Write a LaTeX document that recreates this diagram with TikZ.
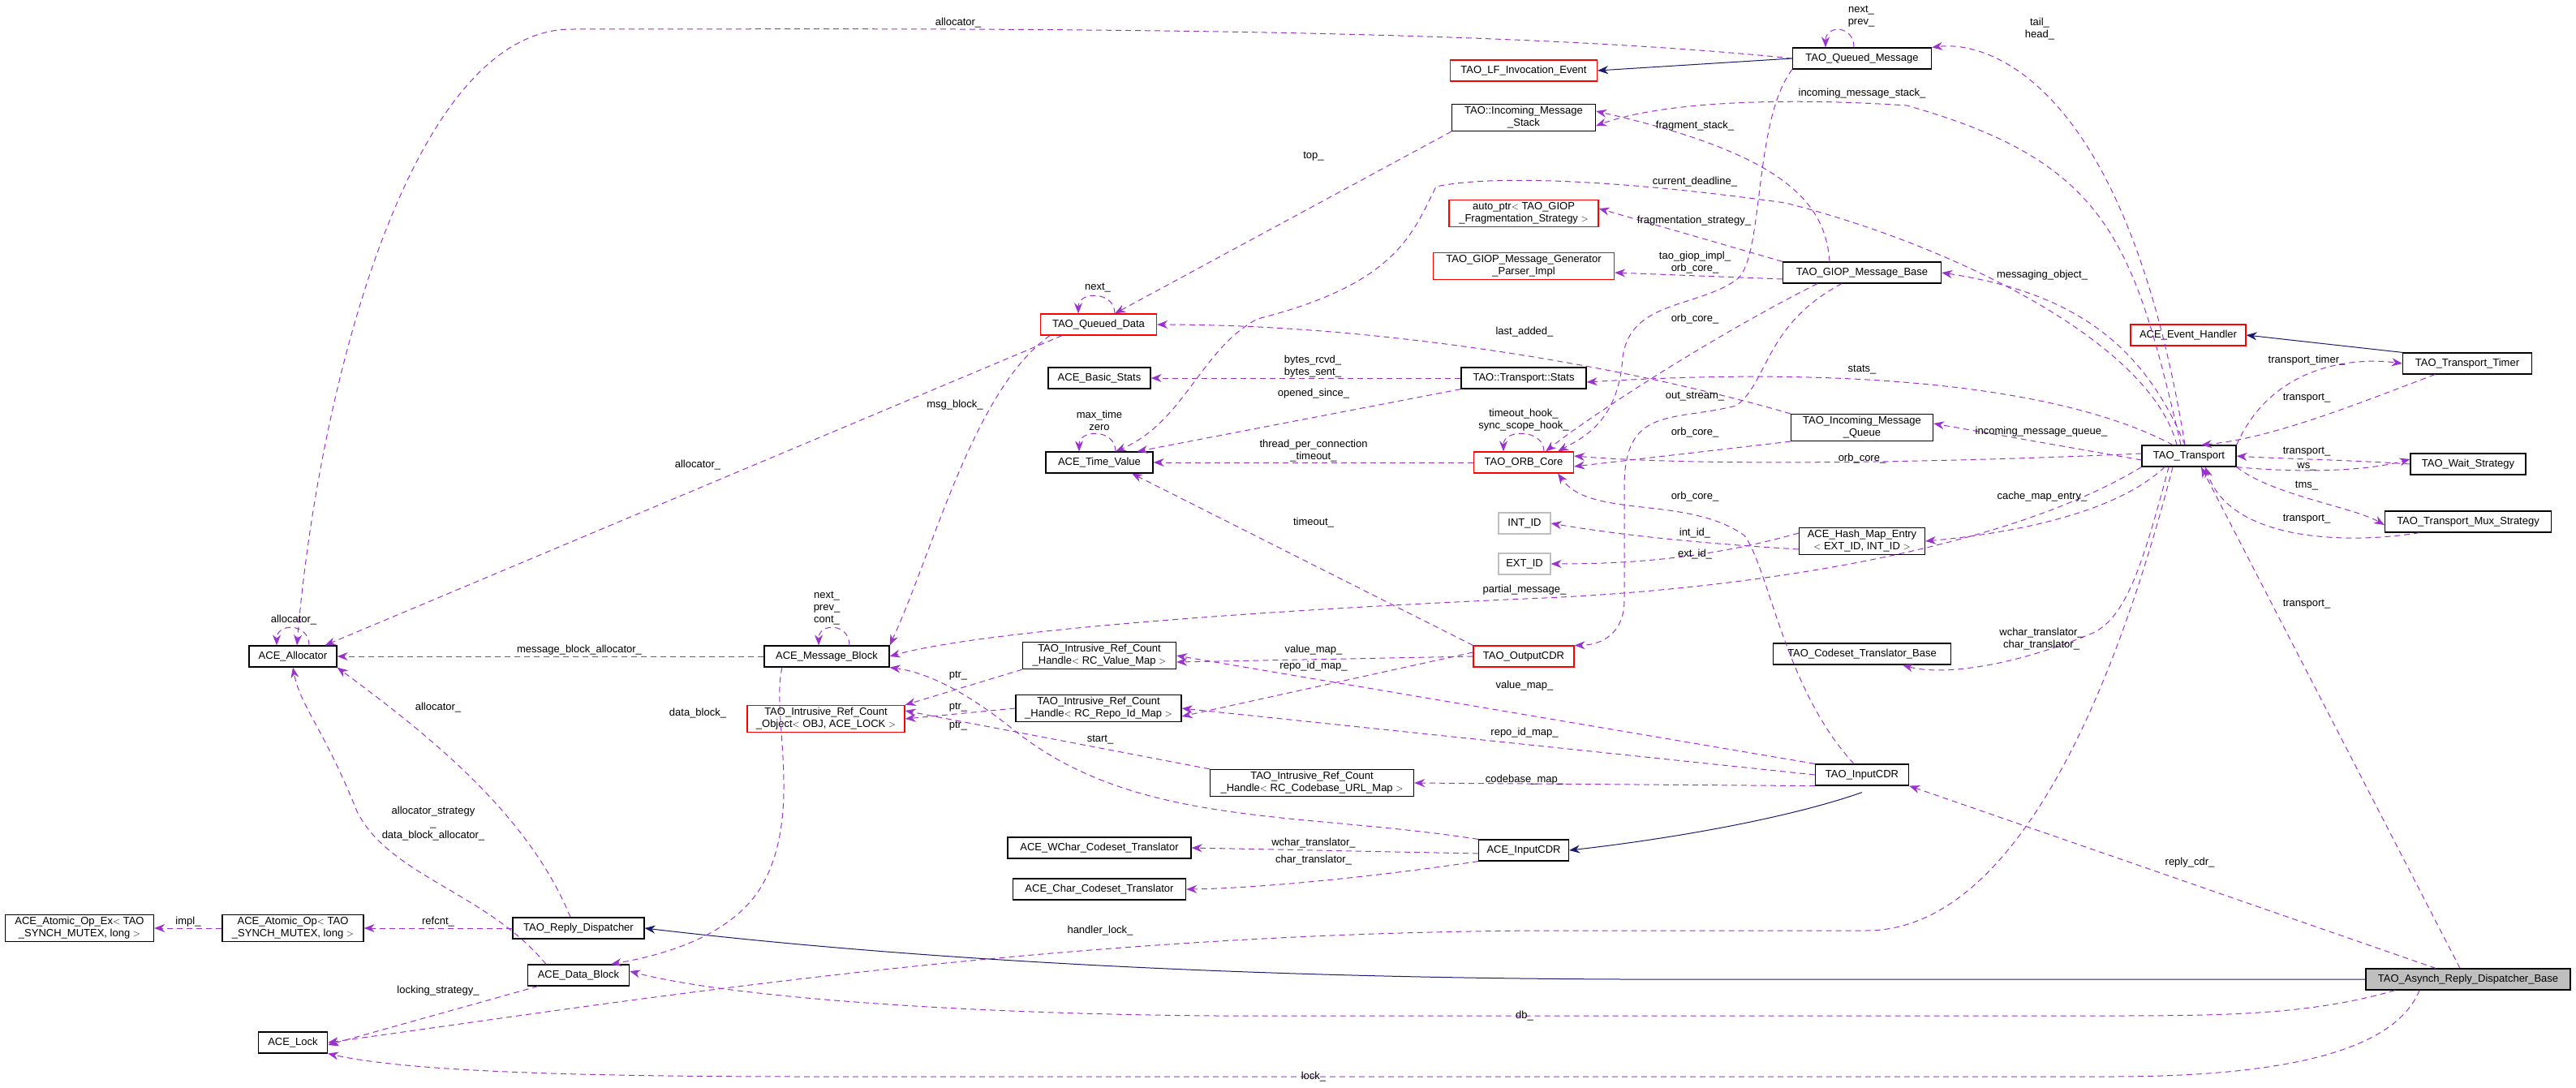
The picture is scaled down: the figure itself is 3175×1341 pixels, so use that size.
\documentclass[tikz,border=0pt]{standalone}
\usepackage{fontspec}
\setmainfont{Liberation Sans}
\usetikzlibrary{arrows.meta}
\definecolor{purp}{HTML}{9A32CD}
\definecolor{mblue}{HTML}{191970}
\tikzset{
 box/.style={draw=black,line width=1.2pt,fill=white,minimum height=26pt,inner sep=3pt,align=center,font=\fontsize{13}{15}\selectfont},
 rbox/.style={box,draw=red},
 gbox/.style={box,draw=black!25},
 mem/.style={draw=purp,dashed,dash pattern=on 7pt off 5pt,line width=1pt,-{Stealth[length=13pt,width=10pt]}},
 inh/.style={draw=mblue,line width=1pt,-{Stealth[length=13pt,width=10pt]}},
 lbl/.style={font=\fontsize{13}{15}\selectfont,inner sep=1pt,align=center},
}
\begin{document}
\begin{tikzpicture}[x=1pt,y=-1pt]
\useasboundingbox (0,0) rectangle (3175,1341);
% nodes
\node[box,minimum width=171] (qm) at (2295,72) {TAO\_Queued\_Message};
\node[rbox,minimum width=181] (lf) at (1878,87) {TAO\_LF\_Invocation\_Event};
\node[box,minimum width=177] (ims) at (1878,145) {TAO::Incoming\_Message\\\_Stack};
\node[rbox,minimum width=184] (ap) at (1878,263) {auto\_ptr$<$ TAO\_GIOP\\\_Fragmentation\_Strategy $>$};
\node[rbox,minimum width=223] (gp) at (1878,328) {TAO\_GIOP\_Message\_Generator\\\_Parser\_Impl};
\node[rbox,minimum width=143] (qd) at (1354,400) {TAO\_Queued\_Data};
\node[box,minimum width=126] (bs) at (1355,466) {ACE\_Basic\_Stats};
\node[box,minimum width=154] (st) at (1878,466) {TAO::Transport::Stats};
\node[box,minimum width=132] (tv) at (1355,570) {ACE\_Time\_Value};
\node[rbox,minimum width=123] (orb) at (1878,570) {TAO\_ORB\_Core};
\node[gbox,minimum width=64] (intid) at (1879,645) {INT\_ID};
\node[gbox,minimum width=64] (extid) at (1879,695) {EXT\_ID};
\node[box,minimum width=195] (gmb) at (2295,336) {TAO\_GIOP\_Message\_Base};
\node[rbox,minimum width=142] (eh) at (2697,413) {ACE\_Event\_Handler};
\node[box,minimum width=159] (tt) at (3041,448) {TAO\_Transport\_Timer};
\node[box,minimum width=175] (imq) at (2295,527) {TAO\_Incoming\_Message\\\_Queue};
\node[box,minimum width=116] (tr) at (2698,562) {TAO\_Transport};
\node[box,minimum width=142] (ws) at (3042,572) {TAO\_Wait\_Strategy};
\node[box,minimum width=205] (mux) at (3042,643) {TAO\_Transport\_Mux\_Strategy};
\node[box,minimum width=155] (hme) at (2295,667) {ACE\_Hash\_Map\_Entry\\$<$ EXT\_ID, INT\_ID $>$};
\node[box,minimum width=219] (ctb) at (2295,806) {TAO\_Codeset\_Translator\_Base};
\node[box,minimum width=115] (icdr) at (2295,955) {TAO\_InputCDR};
\node[box,minimum width=252,fill=black!25] (ardb) at (3042,1207) {TAO\_Asynch\_Reply\_Dispatcher\_Base};
\node[rbox,minimum width=124] (ocdr) at (1878,809) {TAO\_OutputCDR};
\node[box,minimum width=189] (rcv) at (1355,808) {TAO\_Intrusive\_Ref\_Count\\\_Handle$<$ RC\_Value\_Map $>$};
\node[box,minimum width=204] (rcr) at (1354,873) {TAO\_Intrusive\_Ref\_Count\\\_Handle$<$ RC\_Repo\_Id\_Map $>$};
\node[box,minimum width=251] (rcc) at (1617,965) {TAO\_Intrusive\_Ref\_Count\\\_Handle$<$ RC\_Codebase\_URL\_Map $>$};
\node[rbox,minimum width=194] (obj) at (1018,886) {TAO\_Intrusive\_Ref\_Count\\\_Object$<$ OBJ, ACE\_LOCK $>$};
\node[box,minimum width=226] (wct) at (1355,1045) {ACE\_WChar\_Codeset\_Translator};
\node[box,minimum width=111] (aicdr) at (1878,1048) {ACE\_InputCDR};
\node[box,minimum width=213] (cct) at (1355,1096) {ACE\_Char\_Codeset\_Translator};
\node[box,minimum width=108] (alloc) at (361,809) {ACE\_Allocator};
\node[box,minimum width=154] (mb) at (1019,809) {ACE\_Message\_Block};
\node[box,minimum width=183] (aox) at (98,1144) {ACE\_Atomic\_Op\_Ex$<$ TAO\\\_SYNCH\_MUTEX, long $>$};
\node[box,minimum width=174] (ao) at (361,1144) {ACE\_Atomic\_Op$<$ TAO\\\_SYNCH\_MUTEX, long $>$};
\node[box,minimum width=162] (rd) at (713,1144) {TAO\_Reply\_Dispatcher};
\node[box,minimum width=125] (db) at (713,1202) {ACE\_Data\_Block};
\node[box,minimum width=85] (lock) at (361,1285) {ACE\_Lock};
% inheritance
\draw[inh] (qm.west) -- (lf.east);
\draw[inh] (tt.north west) -- (eh.east);
\draw[inh] ([yshift=-8]icdr.south) .. controls (2200,1010) and (2050,1035) .. (aicdr.east);
\draw[inh] (ardb.west) -- (2000,1207) .. controls (1500,1205) and (1100,1180) .. (rd.east);
% self loops
\draw[mem] ([xshift=20]alloc.north) .. controls +(0,-28) and +(0,-28) .. ([xshift=-20]alloc.north);
\draw[mem] ([xshift=28]mb.north) .. controls +(0,-28) and +(0,-28) .. ([xshift=-10]mb.north);
\draw[mem] ([xshift=20]qd.north) .. controls +(0,-28) and +(0,-28) .. ([xshift=-25]qd.north);
\draw[mem] ([xshift=20]tv.north) .. controls +(0,-28) and +(0,-28) .. ([xshift=-25]tv.north);
\draw[mem] ([xshift=25]orb.north) .. controls +(0,-28) and +(0,-28) .. ([xshift=-25]orb.north);
\draw[mem] ([xshift=-10]qm.north) .. controls +(0,-28) and +(0,-28) .. ([xshift=-45]qm.north);
% member edges
\draw[mem] (qm.west) .. controls (1800,30) and (1100,36) .. (702,36) .. controls (500,40) and (390,500) .. ([xshift=5]alloc.north);
\draw[mem] ([xshift=-45]qd.south) -- ([xshift=-15]alloc.north east);
\draw[mem] (mb.west) -- (alloc.east);
\draw[mem] ([xshift=-60]qd.south) .. controls (1200,480) and (1150,680) .. (mb.north east);
\draw[mem] (tr.south west) .. controls (2450,690) and (2100,730) .. (1879,738) .. controls (1500,755) and (1200,780) .. (mb.east);
\draw[mem] (aicdr.north west) .. controls (1600,1000) and (1400,1020) .. (1250,900) .. controls (1200,860) and (1150,830) .. (mb.south east);
\draw[mem] ([xshift=-55]mb.south) .. controls (950,880) and (990,1000) .. (940,1090) .. controls (900,1160) and (800,1180) .. ([xshift=40]db.north);
\draw[mem] ([xshift=-10]rd.north) .. controls (650,1000) and (520,900) .. (alloc.south east);
\draw[mem] ([xshift=-40]db.north) .. controls (600,1100) and (480,1080) .. (440,1000) .. controls (400,900) and (370,870) .. (alloc.south);
\draw[mem] (rd.west) -- (ao.east);
\draw[mem] (ao.west) -- (aox.east);
\draw[mem] ([xshift=-50]db.south) -- ([yshift=-3]lock.east);
\draw[mem] ([xshift=-20]tr.south) .. controls (2620,800) and (2500,1147) .. (2300,1147) -- (1900,1147) .. controls (1300,1150) and (800,1230) .. (lock.east);
\draw[mem] ([xshift=-90]ardb.south) .. controls (2850,1250) and (2750,1252) .. (2600,1252) -- (1500,1252) .. controls (1200,1250) and (900,1230) .. ([yshift=5]db.east);
\draw[mem] ([xshift=-60]ardb.south) .. controls (2950,1300) and (2800,1327) .. (2600,1327) -- (1000,1327) .. controls (700,1327) and (500,1320) .. (lock.south east);
\draw[mem] ([xshift=-40]ardb.north) -- (icdr.south east);
\draw[mem] ([xshift=-10]ardb.north) -- ([xshift=15]tr.south);
\draw[mem] ([yshift=-4]aicdr.west) -- (wct.east);
\draw[mem] (aicdr.south west) .. controls (1700,1080) and (1550,1095) .. (cct.east);
\draw[mem] (icdr.north west) -- (rcv.east);
\draw[mem] (icdr.west) -- (rcr.east);
\draw[mem] (icdr.south west) -- (rcc.east);
\draw[mem] (ocdr.west) -- ([yshift=-8]rcv.east);
\draw[mem] ([yshift=5]ocdr.west) -- ([yshift=-10]rcr.east);
\draw[mem] (rcv.south west) -- (obj.north east);
\draw[mem] (rcr.west) -- (obj.east);
\draw[mem] (rcc.north west) -- ([yshift=10]obj.east);
\draw[mem] (ocdr.north west) -- ([xshift=40]tv.south);
\draw[mem] ([xshift=-10]icdr.north) .. controls (2200,850) and (2180,700) .. (2150,660) .. controls (2080,610) and (1960,640) .. ([xshift=-20]orb.south east);
\draw[mem] (qm.south west) .. controls (2160,150) and (2175,320) .. (2140,345) .. controls (2090,380) and (2010,370) .. (2000,440) .. controls (1995,520) and (1950,540) .. ([xshift=-20]orb.north east);
\draw[mem] ([xshift=-25]gmb.south) .. controls (2175,400) and (2180,470) .. (2140,500) .. controls (2060,520) and (2002,500) .. (2002,600) -- (2002,740) .. controls (2002,780) and (1975,795) .. (ocdr.north east);
\draw[mem] ([xshift=-55]gmb.south) .. controls (2100,420) and (1950,520) .. ([xshift=-35]orb.north east);
\draw[mem] (imq.south west) -- ([yshift=-5]orb.east);
\draw[mem] ([yshift=3]tr.west) .. controls (2400,570) and (2100,575) .. ([yshift=8]orb.east);
\draw[mem] (orb.west) -- (tv.east);
\draw[mem] (st.west) -- (bs.east);
\draw[mem] (st.south west) -- ([xshift=-20]tv.north east);
\draw[mem] ([xshift=-15]tr.north) .. controls (2650,420) and (2400,300) .. (2200,250) .. controls (2000,222) and (1840,215) .. (1770,230) .. controls (1740,290) and (1720,350) .. (1550,393) .. controls (1480,430) and (1460,520) .. ([xshift=20]tv.north);
\draw[mem] (ims.south west) -- ([xshift=20]qd.north);
\draw[mem] (imq.north west) .. controls (2000,450) and (1700,400) .. (qd.east);
\draw[mem] ([xshift=-10]tr.north) .. controls (2630,300) and (2600,200) .. (2350,130) .. controls (2200,120) and (2050,125) .. ([yshift=-10]ims.east);
\draw[mem] ([xshift=-40]gmb.north) .. controls (2250,250) and (2200,190) .. ([yshift=8]ims.east);
\draw[mem] (gmb.north west) -- ([yshift=6]ap.east);
\draw[mem] ([yshift=-8]gmb.west) -- ([yshift=-8]gp.east);
\draw[mem] ([xshift=-5]tr.north) .. controls (2640,420) and (2550,360) .. (gmb.east);
\draw[mem] ([xshift=-20]tr.north) .. controls (2550,480) and (2300,450) .. ([yshift=-5]st.east);
\draw[mem] ([yshift=-5]tr.west) -- ([yshift=5]imq.east);
\draw[mem] ([xshift=-30]tr.south) .. controls (2600,640) and (2450,660) .. (hme.east);
\draw[mem] ([yshift=-10]hme.west) .. controls (2100,670) and (2000,660) .. (intid.east);
\draw[mem] ([yshift=10]hme.west) .. controls (2100,690) and (2000,695) .. (extid.east);
\draw[mem] ([xshift=-25]tr.south) .. controls (2640,700) and (2620,760) .. (2580,780) .. controls (2460,830) and (2380,830) .. ([xshift=50]ctb.south);
\draw[mem] ([xshift=-5]tr.north) .. controls (2620,100) and (2450,50) .. (qm.north east);
\draw[mem] (tr.north east) .. controls (2800,450) and (2900,440) .. (tt.west);
\draw[mem] ([xshift=-40]tt.south) .. controls (2900,500) and (2800,540) .. ([xshift=15]tr.north);
\draw[mem] (ws.west) .. controls (2900,567) and (2800,565) .. (tr.east);
\draw[mem] (tr.south east) .. controls (2800,580) and (2900,585) .. ([yshift=6]ws.west);
\draw[mem] (tr.south east) .. controls (2800,610) and (2900,625) .. ([yshift=-4]mux.west);
\draw[mem] ([xshift=-60]mux.south) .. controls (2900,670) and (2750,670) .. ([xshift=20]tr.south);
% labels
\node[lbl] (l1) at (1181,28) {allocator\_};
\node[lbl] (l2) at (860,573) {allocator\_};
\node[lbl] (l3) at (362,764) {allocator\_};
\node[lbl] (l4) at (714,801) {message\_block\_allocator\_};
\node[lbl] (l5) at (1019,750) {next\_\\prev\_\\cont\_};
\node[lbl] (l6) at (540,872) {allocator\_};
\node[lbl] (l7) at (860,879) {data\_block\_};
\node[lbl] (l8) at (534,1015) {allocator\_strategy\\\_\\data\_block\_allocator\_};
\node[lbl] (l9) at (232,1136) {impl\_};
\node[lbl] (l10) at (540,1136) {refcnt\_};
\node[lbl] (l11) at (540,1221) {locking\_strategy\_};
\node[lbl] (l12) at (2089,155) {fragment\_stack\_};
\node[lbl] (l13) at (1619,193) {top\_};
\node[lbl] (l14) at (2089,224) {current\_deadline\_};
\node[lbl] (l15) at (2088,272) {fragmentation\_strategy\_};
\node[lbl] (l16) at (2089,324) {tao\_giop\_impl\_\\orb\_core\_};
\node[lbl] (l17) at (1353,355) {next\_};
\node[lbl] (l18) at (2089,393) {orb\_core\_};
\node[lbl] (l19) at (1879,409) {last\_added\_};
\node[lbl] (l20) at (1618,452) {bytes\_rcvd\_\\bytes\_sent\_};
\node[lbl] (l21) at (1619,485) {opened\_since\_};
\node[lbl] (l22) at (1177,499) {msg\_block\_};
\node[lbl] (l23) at (2089,489) {out\_stream\_};
\node[lbl] (l24) at (1355,518) {max\_time\\zero};
\node[lbl] (l25) at (1619,556) {thread\_per\_connection\\\_timeout\_};
\node[lbl] (l26) at (1878,518) {timeout\_hook\_\\sync\_scope\_hook\_};
\node[lbl] (l27) at (2089,533) {orb\_core\_};
\node[lbl] (l28) at (2089,612) {orb\_core\_};
\node[lbl] (l29) at (1619,644) {timeout\_};
\node[lbl] (l30) at (2089,657) {int\_id\_};
\node[lbl] (l31) at (2089,683) {ext\_id\_};
\node[lbl] (l32) at (1879,727) {partial\_message\_};
\node[lbl] (l33) at (1619,801) {value\_map\_};
\node[lbl] (l34) at (1619,821) {repo\_id\_map\_};
\node[lbl] (l35) at (1181,833) {ptr\_};
\node[lbl] (l36) at (1181,872) {ptr\_};
\node[lbl] (l37) at (1181,895) {ptr\_};
\node[lbl] (l38) at (1879,845) {value\_map\_};
\node[lbl] (l39) at (1356,912) {start\_};
\node[lbl] (l40) at (1879,903) {repo\_id\_map\_};
\node[lbl] (l41) at (1879,961) {codebase\_map\_};
\node[lbl] (l42) at (1619,1039) {wchar\_translator\_};
\node[lbl] (l43) at (1619,1060) {char\_translator\_};
\node[lbl] (l44) at (1356,1147) {handler\_lock\_};
\node[lbl] (l45) at (1879,1252) {db\_};
\node[lbl] (l46) at (1619,1327) {lock\_};
\node[lbl] (l47) at (2294,20) {next\_\\prev\_};
\node[lbl] (l48) at (2514,36) {tail\_\\head\_};
\node[lbl] (l49) at (2295,115) {incoming\_message\_stack\_};
\node[lbl] (l50) at (2517,339) {messaging\_object\_};
\node[lbl] (l51) at (2843,444) {transport\_timer\_};
\node[lbl] (l52) at (2843,491) {transport\_};
\node[lbl] (l53) at (2295,456) {stats\_};
\node[lbl] (l54) at (2516,532) {incoming\_message\_queue\_};
\node[lbl] (l55) at (2295,565) {orb\_core\_};
\node[lbl] (l56) at (2843,557) {transport\_};
\node[lbl] (l57) at (2843,575) {ws\_};
\node[lbl] (l58) at (2843,599) {tms\_};
\node[lbl] (l59) at (2517,612) {cache\_map\_entry\_};
\node[lbl] (l60) at (2843,640) {transport\_};
\node[lbl] (l61) at (2843,745) {transport\_};
\node[lbl] (l62) at (2516,788) {wchar\_translator\_\\char\_translator\_};
\node[lbl] (l63) at (2699,1063) {reply\_cdr\_};
\end{tikzpicture}
\end{document}
